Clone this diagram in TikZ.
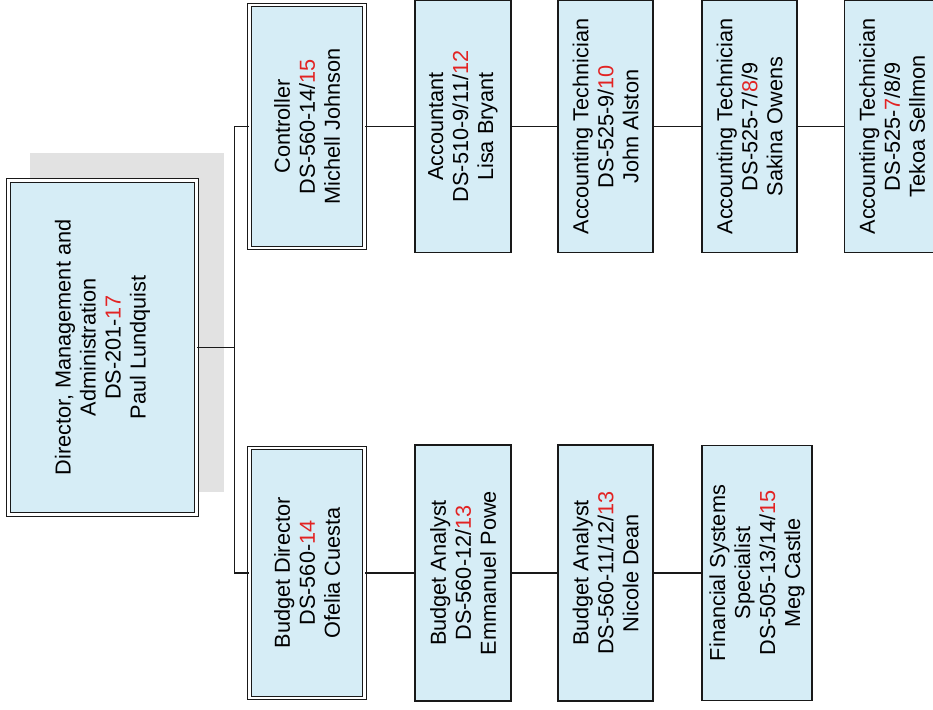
\documentclass[tikz,border=0pt]{standalone}
\usepackage{fontspec}
\setmainfont{Liberation Sans}
\definecolor{boxfill}{RGB}{214,237,246}
\definecolor{numred}{RGB}{226,35,35}
\definecolor{shadowgray}{RGB}{226,226,226}
\newcommand{\rd}[1]{\textcolor{numred}{#1}}
\begin{document}
\begin{tikzpicture}[x=1pt,y=-1pt,
  box/.style={draw=black!90, line width=1.3pt, fill=boxfill, rotate=90, align=center,
    inner sep=0pt, font=\fontsize{21.7}{25}\selectfont},
  dbox/.style={box, line width=1.2pt, double=white, double distance=2.4pt},
  link/.style={line width=1.2pt, draw=black!90}]
\useasboundingbox (0,0) rectangle (933,709);
\clip (0,0) rectangle (933,709);
% shadow
\fill[shadowgray] (30,153) rectangle (224,492);
% director
\node[dbox, minimum width=334pt, minimum height=188pt] (dir) at (102.5,347.5)
  {Director, Management and\\Administration\\DS-201-\rd{17}\\Paul Lundquist};
% top row
\node[dbox, minimum width=243pt, minimum height=115pt] (ctrl) at (307,126.5)
  {Controller\\DS-560-14/\rd{15}\\Michell Johnson};
\node[box, minimum width=252pt, minimum height=96pt] (acct) at (463,126.5)
  {Accountant\\DS-510-9/11/\rd{12}\\Lisa Bryant};
\node[box, minimum width=252pt, minimum height=95pt] (at1) at (605.5,126.5)
  {Accounting Technician\\DS-525-9/\rd{10}\\John Alston};
\node[box, minimum width=252pt, minimum height=95pt] (at2) at (749.5,126.5)
  {Accounting Technician\\DS-525-7/\rd{8}/9\\Sakina Owens};
\node[box, minimum width=252pt, minimum height=95pt] (at3) at (892,126.5)
  {Accounting Technician\\DS-525-\rd{7}/8/9\\Tekoa Sellmon};
% bottom row
\node[dbox, minimum width=250pt, minimum height=115pt] (bud) at (307,573)
  {Budget Director\\DS-560-\rd{14}\\Ofelia Cuesta};
\node[box, minimum width=256pt, minimum height=96pt] (ba1) at (463,573)
  {Budget Analyst\\DS-560-12/\rd{13}\\Emmanuel Powe};
\node[box, minimum width=256pt, minimum height=95pt] (ba2) at (605.5,573)
  {Budget Analyst\\DS-560-11/12/\rd{13}\\Nicole Dean};
\node[box, minimum width=255pt, minimum height=110pt] (fss) at (757,573)
  {Financial Systems\\Specialist\\DS-505-13/14/\rd{15}\\Meg Castle};
% connectors
\coordinate (sp) at (234.5,0);
\draw[link] (dir.south) -- (dir.south -| sp);
\draw[link] (ctrl.north) -- (ctrl.north -| sp) -- (bud.north -| sp) -- (bud.north);
\draw[link] (ctrl.south) -- (acct.north);
\draw[link] (acct.south) -- (at1.north);
\draw[link] (at1.south) -- (at2.north);
\draw[link] (at2.south) -- (at3.north);
\draw[link] (bud.south) -- (ba1.north);
\draw[link] (ba1.south) -- (ba2.north);
\draw[link] (ba2.south) -- (fss.north);
\end{tikzpicture}
\end{document}
